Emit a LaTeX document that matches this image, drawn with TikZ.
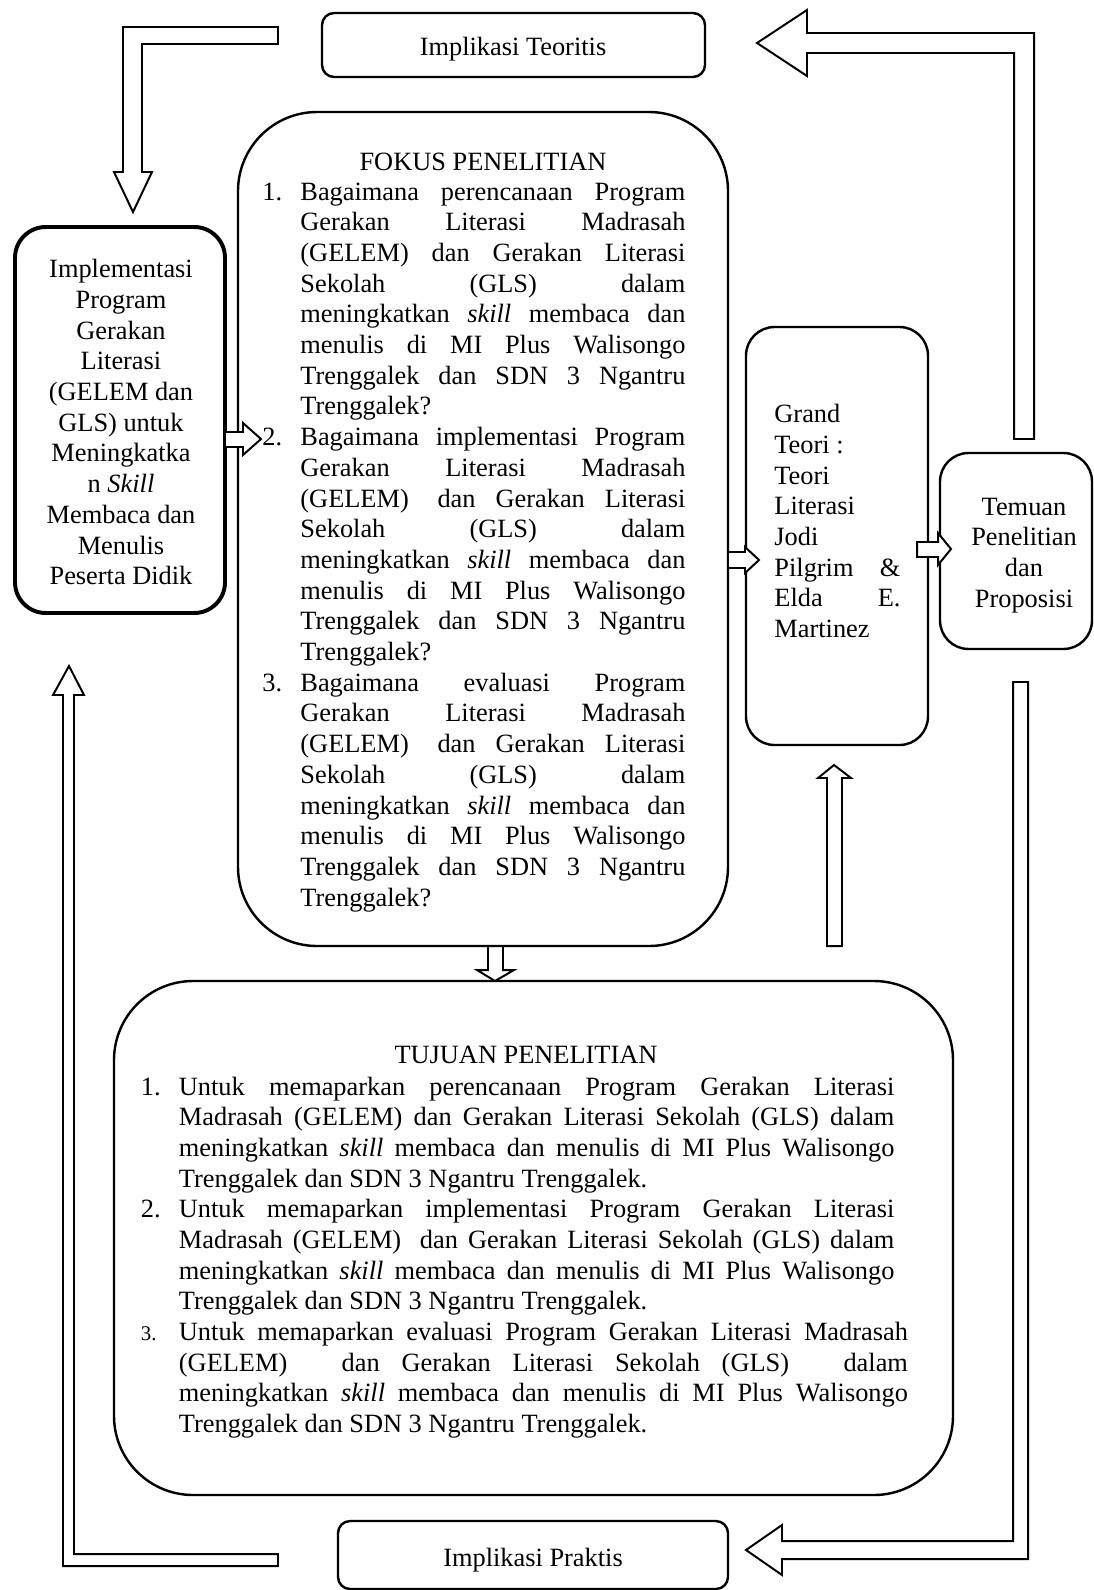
\documentclass[tikz,border=0pt]{standalone}
\usepackage{fontspec}
\setmainfont{Liberation Serif}
\usetikzlibrary{fit}
\newlength\ux \setlength\ux{0.455pt}
\newcommand\jl[1]{\hbox to\hsize{\strut #1}}
\newcommand\nl[1]{\hbox to\hsize{\strut #1\hfil}}
\newcommand\cl[1]{\hbox to\hsize{\hfil\strut #1\hfil}}
\newcommand\num[1]{\llap{\hbox to 38\ux{#1\hfil}}}
\newcommand\gp[1]{\hskip 0pt plus #1fil\relax}
\begin{document}
\begin{tikzpicture}[x=0.455pt, y=-0.455pt,
  txt/.style={inner sep=0pt, font=\fontsize{12}{13.97}\selectfont},
  box/.style={draw, line width=1.1pt, inner sep=0pt},
  blk/.style={draw, line width=0.9pt, fill=white, line join=miter}]
\useasboundingbox (0,0) rectangle (1094,1590);

% boxes
\node[box, rounded corners=5.5pt, fit={(322,13)(705,77)}] (teoritis) {};
\node[box, rounded corners=36pt, fit={(238,112)(728,946)}] (fokus) {};
\node[box, line width=1.8pt, rounded corners=14pt, fit={(15,227)(225,613)}] (impl) {};
\node[box, rounded corners=13pt, fit={(746,327)(928,745)}] (grand) {};
\node[box, rounded corners=13pt, fit={(940,453)(1092,649)}] (temuan) {};
\node[box, rounded corners=36pt, fit={(114,981)(953,1495)}] (tujuan) {};
\node[box, rounded corners=5.5pt, fit={(338,1521)(728,1589)}] (praktis) {};

% texts
\node[txt, anchor=base] (teoritisT) at (513,55) {Implikasi Teoritis};
\node[txt, anchor=base] (praktisT) at (533,1566) {Implikasi Praktis};
\node[txt, anchor=base] (fokusT) at (483,170) {FOKUS PENELITIAN};

\node[txt, anchor=base west] (fk1) at (300,200) {\vtop{\hsize=385\ux
\jl{\num{1.}Bagaimana perencanaan Program}
\jl{Gerakan Literasi Madrasah}
\jl{(GELEM) dan Gerakan Literasi}
\jl{Sekolah (GLS) dalam}
\jl{meningkatkan \textit{skill} membaca dan}
\jl{menulis di MI Plus Walisongo}
\jl{Trenggalek dan SDN 3 Ngantru}
\nl{Trenggalek?}}};

\node[txt, anchor=base west] (fk2) at (300,445.6) {\vtop{\hsize=385\ux
\jl{\num{2.}Bagaimana implementasi Program}
\jl{Gerakan Literasi Madrasah}
\jl{(GELEM)\hspace{4pt} dan Gerakan Literasi}
\jl{Sekolah (GLS) dalam}
\jl{meningkatkan \textit{skill} membaca dan}
\jl{menulis di MI Plus Walisongo}
\jl{Trenggalek dan SDN 3 Ngantru}
\nl{Trenggalek?}}};

\node[txt, anchor=base west] (fk3) at (300,691.2) {\vtop{\hsize=385\ux
\jl{\num{3.}Bagaimana evaluasi Program}
\jl{Gerakan Literasi Madrasah}
\jl{(GELEM)\hspace{4pt} dan Gerakan Literasi}
\jl{Sekolah (GLS) dalam}
\jl{meningkatkan \textit{skill} membaca dan}
\jl{menulis di MI Plus Walisongo}
\jl{Trenggalek dan SDN 3 Ngantru}
\nl{Trenggalek?}}};

\node[txt, anchor=base] (tujuanT) at (526,1063.5) {TUJUAN PENELITIAN};

\node[txt, anchor=base west] (tj1) at (178.5,1095) {\vtop{\hsize=715.5\ux
\jl{\num{1.}Untuk memaparkan perencanaan Program Gerakan Literasi}
\jl{Madrasah (GELEM) dan Gerakan Literasi Sekolah (GLS) dalam}
\jl{meningkatkan \textit{skill} membaca dan menulis di MI Plus Walisongo}
\nl{Trenggalek dan SDN 3 Ngantru Trenggalek.}}};

\node[txt, anchor=base west] (tj2) at (178.5,1217.7) {\vtop{\hsize=715.5\ux
\jl{\num{2.}Untuk memaparkan implementasi Program Gerakan Literasi}
\jl{Madrasah (GELEM)\hspace{4pt} dan Gerakan Literasi Sekolah (GLS) dalam}
\jl{meningkatkan \textit{skill} membaca dan menulis di MI Plus Walisongo}
\nl{Trenggalek dan SDN 3 Ngantru Trenggalek.}}};

\node[txt, anchor=base west] (tj3) at (178.5,1340.4) {\vtop{\hsize=729\ux
\jl{\num{{\fontsize{9.5}{12}\selectfont 3.}}Untuk memaparkan evaluasi Program Gerakan Literasi Madrasah}
\jl{(GELEM)\gp{2.5}dan\gp{1}Gerakan\gp{1}Literasi\gp{1}Sekolah\gp{1}(GLS)\gp{2.5}dalam}
\jl{meningkatkan \textit{skill} membaca dan menulis di MI Plus Walisongo}
\nl{Trenggalek dan SDN 3 Ngantru Trenggalek.}}};

\node[txt, anchor=base] (implT) at (121,277.7) {\vtop{\hsize=205\ux
\cl{Implementasi}
\cl{Program}
\cl{Gerakan}
\cl{Literasi}
\cl{(GELEM dan}
\cl{GLS) untuk}
\cl{Meningkatka}
\cl{n \textit{Skill}}
\cl{Membaca dan}
\cl{Menulis}
\cl{Peserta Didik}}};

\node[txt, anchor=base west] (grandT) at (774,422.7) {\vtop{\hsize=126\ux
\nl{Grand}
\nl{Teori :}
\nl{Teori}
\nl{Literasi}
\nl{Jodi}
\jl{Pilgrim \&}
\jl{Elda E.}
\nl{Martinez}}};

\node[txt, anchor=base] (temuanT) at (1024,515) {\vtop{\hsize=150\ux
\cl{Temuan}
\cl{Penelitian}
\cl{dan}
\cl{Proposisi}}};

% block arrows
% Teoritis -> Implementasi
\draw[blk] (278,27) -- (123,27) -- (123,172) -- (114,172) -- (133,212) -- (152,172)
  -- (142,172) -- (142,44) -- (278,44) -- cycle;
% Temuan -> Teoritis
\draw[blk] (1014,439) -- (1014,53) -- (807,53) -- (807,76) -- (757,43) -- (807,10)
  -- (807,33) -- (1034,33) -- (1034,439) -- cycle;
% Temuan -> Praktis
\draw[blk] (1013,682) -- (1028,682) -- (1028,1559) -- (782,1559) -- (782,1575)
  -- (746,1550) -- (782,1525) -- (782,1541) -- (1013,1541) -- cycle;
% Praktis -> Implementasi
\draw[blk] (278,1554) -- (74,1554) -- (74,695) -- (84,695) -- (69,666) -- (53,695)
  -- (63,695) -- (63,1566) -- (278,1566) -- cycle;
% Implementasi -> Fokus
\draw[blk] (225,432) -- (243,432) -- (243,423) -- (261,439) -- (243,455) -- (243,447)
  -- (225,447) -- cycle;
% Fokus -> Grand
\draw[blk] (728,552) -- (745,552) -- (745,547) -- (759,560) -- (745,573) -- (745,568)
  -- (728,568) -- cycle;
% Grand -> Temuan
\draw[blk] (917,542) -- (938,542) -- (938,533) -- (951,549) -- (938,565) -- (938,557)
  -- (917,557) -- cycle;
% Fokus -> Tujuan
\draw[blk] (488,946) -- (488,970) -- (477,970) -- (495,981) -- (514,970) -- (503,970)
  -- (503,946) -- cycle;
% Tujuan -> Grand
\draw[blk] (827,946) -- (827,778) -- (818,778) -- (834,765) -- (851,778) -- (842,778)
  -- (842,946) -- cycle;
\end{tikzpicture}
\end{document}
